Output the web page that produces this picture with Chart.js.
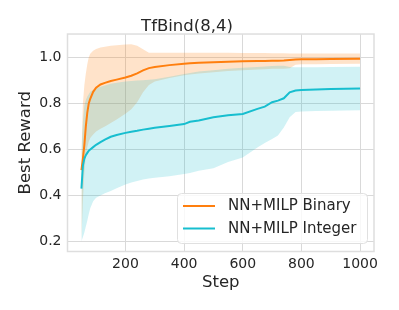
<!DOCTYPE html>
<html><head><meta charset="utf-8">
<script src="https://cdn.jsdelivr.net/npm/chart.js@4.4.0/dist/chart.umd.min.js"></script>
<style>html,body{margin:0;padding:0;background:#fff;}</style>
</head><body>
<canvas id="c" width="399" height="310" style="width:399px;height:310px;display:block"></canvas>
<script>
const steps = [50,55,60,65,70,75,80,90,100,115,130,150,170,200,220,240,260,280,300,350,400,420,450,500,550,600,650,675,700,720,740,760,780,800,850,900,1000];

const binaryMean  = [0.51,0.56,0.62,0.70,0.76,0.80,0.82,0.85,0.868,0.882,0.889,0.897,0.903,0.912,0.92,0.93,0.943,0.953,0.958,0.966,0.972,0.974,0.976,0.979,0.981,0.983,0.984,0.984,0.985,0.985,0.986,0.988,0.99,0.991,0.992,0.993,0.994];
const binaryUpper = [0.58,0.80,0.88,0.93,0.97,1.0,1.015,1.028,1.036,1.042,1.046,1.05,1.052,1.055,1.057,1.05,1.035,1.02,1.02,1.02,1.02,1.02,1.02,1.02,1.02,1.019,1.019,1.019,1.018,1.018,1.018,1.017,1.017,1.017,1.016,1.016,1.016];
const binaryLower = [0.2,0.38,0.5,0.57,0.61,0.635,0.65,0.665,0.678,0.69,0.70,0.715,0.73,0.755,0.775,0.805,0.848,0.88,0.895,0.91,0.922,0.925,0.93,0.935,0.94,0.944,0.947,0.948,0.95,0.95,0.95,0.952,0.968,0.97,0.97,0.971,0.972];

const integerMean  = [0.43,0.53,0.56,0.575,0.585,0.595,0.60,0.61,0.62,0.632,0.643,0.655,0.663,0.672,0.677,0.681,0.686,0.69,0.694,0.702,0.71,0.72,0.726,0.74,0.748,0.754,0.776,0.786,0.805,0.812,0.822,0.848,0.856,0.858,0.86,0.862,0.865];
const integerUpper = [0.6,0.72,0.79,0.815,0.83,0.84,0.85,0.858,0.865,0.872,0.878,0.885,0.89,0.895,0.897,0.899,0.9,0.902,0.905,0.915,0.928,0.932,0.938,0.944,0.95,0.955,0.958,0.96,0.962,0.963,0.963,0.958,0.957,0.957,0.957,0.958,0.959];
const integerLower = [0.2,0.22,0.24,0.265,0.29,0.32,0.345,0.375,0.39,0.40,0.41,0.42,0.432,0.448,0.456,0.463,0.47,0.474,0.477,0.484,0.493,0.498,0.508,0.518,0.545,0.565,0.608,0.628,0.645,0.66,0.695,0.74,0.762,0.765,0.767,0.768,0.77];

const xTicks = [200,400,600,800,1000];
const yTicks = [0.2,0.4,0.6,0.8,1.0];
const seriesNames = ['NN+MILP Binary','NN+MILP Integer'];
const seriesColors = ['#ff7f0e','#17becf'];

const pts = arr => arr.map((v,i)=>({x:steps[i], y:v}));
const FONT = "'DejaVu Sans', sans-serif";
const TXT = '#262626';

const frameLegend = {
  id:'frameLegend',
  afterDatasetsDraw(chart){
    const {ctx, chartArea:a} = chart;
    ctx.save();
    ctx.strokeStyle = '#dedede';
    ctx.lineWidth = 1.5;
    ctx.strokeRect(a.left, a.top, a.right-a.left, a.bottom-a.top);
    const bx = 177.5, by = 193.5, bw = 190, bh = 50, r = 4;
    ctx.beginPath();
    ctx.moveTo(bx+r,by); ctx.lineTo(bx+bw-r,by); ctx.quadraticCurveTo(bx+bw,by,bx+bw,by+r);
    ctx.lineTo(bx+bw,by+bh-r); ctx.quadraticCurveTo(bx+bw,by+bh,bx+bw-r,by+bh);
    ctx.lineTo(bx+r,by+bh); ctx.quadraticCurveTo(bx,by+bh,bx,by+bh-r);
    ctx.lineTo(bx,by+r); ctx.quadraticCurveTo(bx,by,bx+r,by);
    ctx.closePath();
    ctx.fillStyle = 'rgba(255,255,255,0.8)';
    ctx.fill();
    ctx.strokeStyle = '#e0e0e0'; ctx.lineWidth = 1; ctx.stroke();
    const rows = [206, 228.5];
    ctx.font = '15px ' + FONT;
    ctx.textBaseline = 'middle';
    ctx.textAlign = 'left';
    for (let i=0;i<2;i++){
      ctx.strokeStyle = seriesColors[i]; ctx.lineWidth = 2;
      ctx.beginPath(); ctx.moveTo(183, rows[i]); ctx.lineTo(215, rows[i]); ctx.stroke();
      ctx.fillStyle = TXT;
      ctx.fillText(seriesNames[i], 228, rows[i]+0.5);
    }
    ctx.restore();
  }
};

new Chart(document.getElementById('c'), {
  type:'line',
  data:{ datasets:[
    {data:pts(binaryLower), borderWidth:0, pointRadius:0, fill:false, order:6, borderColor:'rgba(0,0,0,0)'},
    {data:pts(binaryUpper), borderWidth:0, pointRadius:0, fill:'-1', order:5, borderColor:'rgba(0,0,0,0)', backgroundColor:'rgba(255,127,14,0.22)'},
    {data:pts(integerLower), borderWidth:0, pointRadius:0, fill:false, order:4, borderColor:'rgba(0,0,0,0)'},
    {data:pts(integerUpper), borderWidth:0, pointRadius:0, fill:'-1', order:3, borderColor:'rgba(0,0,0,0)', backgroundColor:'rgba(23,190,207,0.2)'},
    {label:seriesNames[0], data:pts(binaryMean), borderColor:seriesColors[0], borderWidth:2, pointRadius:0, fill:false, order:2},
    {label:seriesNames[1], data:pts(integerMean), borderColor:seriesColors[1], borderWidth:2, pointRadius:0, fill:false, order:1}
  ]},
  options:{
    responsive:false, animation:false, devicePixelRatio:1,
    layout:{padding:{left:0,right:25,top:0,bottom:0}},
    plugins:{
      legend:{display:false}, tooltip:{enabled:false},
      title:{display:true, text:'TfBind(8,4)', color:TXT, font:{family:FONT, size:16.5, weight:'normal', lineHeight:0.85}, padding:{top:20,bottom:0}}
    },
    scales:{
      x:{type:'linear', min:2.5, max:1047.5,
        afterBuildTicks(s){ s.ticks = xTicks.map(v=>({value:v})); },
        afterFit(s){ s.height = 58.5; },
        grid:{color:'#d9d9d9', lineWidth:1, drawTicks:false},
        border:{display:false},
        ticks:{color:TXT, font:{family:FONT,size:14}, padding:4, maxRotation:0, callback:v=>String(v)},
        title:{display:true, text:'Step', color:TXT, font:{family:FONT,size:16.5}, padding:{top:0,bottom:17}}
      },
      y:{type:'linear', min:0.157, max:1.101,
        afterBuildTicks(s){ s.ticks = yTicks.map(v=>({value:v})); },
        afterFit(s){ s.width = 67.5; },
        grid:{color:'#d9d9d9', lineWidth:1, drawTicks:false},
        border:{display:false},
        ticks:{color:TXT, font:{family:FONT,size:14}, padding:6, callback:v=>Number(v).toFixed(1)},
        title:{display:true, text:'Best Reward', color:TXT, font:{family:FONT,size:16.5}, padding:{top:16,bottom:0}}
      }
    }
  },
  plugins:[frameLegend]
});
</script>
</body></html>
